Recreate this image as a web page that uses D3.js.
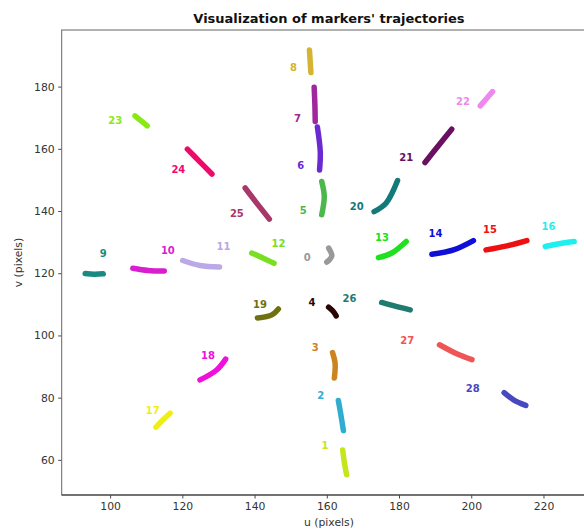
<!DOCTYPE html>
<html>
<head>
<meta charset="utf-8">
<script src="https://cdn.jsdelivr.net/npm/d3@7"></script>
<style>
  html, body { margin: 0; padding: 0; background: #fff; }
  svg { display: block; font-family: "DejaVu Sans", sans-serif; }
</style>
</head>
<body>
<svg id="chart" width="584" height="532"></svg>
<script>
// Marker ids and their colours
const markerIds = [0,1,2,3,4,5,6,7,8,9,10,11,12,13,14,15,16,17,18,19,20,21,22,23,24,25,26,27,28];
const markerColors = [
  "#999999", "#c5e51d", "#30acd0", "#cc8420", "#2a0505", "#4cb84c", "#6a2ad0",
  "#a0289c", "#d4b430", "#1a8a80", "#d81fcf", "#bba8e6", "#78e020", "#20e020",
  "#0f0fd8", "#ee1010", "#1fefef", "#f0f010", "#ee10dc", "#707010", "#137a7a",
  "#6a1060", "#ee88ee", "#88ea10", "#ee0a6a", "#a8386a", "#1f7a70", "#f05555", "#4848c0"
];

// Trajectory samples per marker (u, v in image pixels)
const trajU = [
  [160.5, 161.4, 160.7, 160.0],
  [164.4, 164.9, 165.5],
  [163.2, 163.9, 164.6],
  [161.6, 162.3, 162.1],
  [160.5, 161.8, 162.6],
  [158.6, 159.3, 158.6],
  [157.4, 158.2, 158.0],
  [156.5, 156.7, 156.8],
  [155.2, 155.4, 155.6],
  [93.1, 95.6, 98.1],
  [106.3, 110.5, 115.0],
  [120.1, 124.9, 130.3],
  [139.2, 142.3, 145.4],
  [174.3, 178.0, 182.0],
  [189.1, 195.1, 200.6],
  [204.1, 209.9, 215.4],
  [220.5, 225.5, 228.5],
  [112.7, 114.6, 116.6],
  [124.9, 129.5, 132.0],
  [140.8, 144.8, 146.6],
  [173.1, 176.4, 179.6],
  [187.2, 190.9, 194.6],
  [202.5, 204.2, 205.9],
  [106.9, 108.6, 110.3],
  [121.4, 124.8, 128.2],
  [137.4, 140.7, 144.1],
  [175.2, 178.9, 183.1],
  [191.2, 196.0, 200.2],
  [209.1, 211.7, 215.1]
];
const trajV = [
  [128.1, 125.6, 124.3, 123.6],
  [63.2, 58.9, 55.2],
  [79.1, 74.5, 69.4],
  [94.5, 91.1, 86.3],
  [109.1, 107.7, 106.3],
  [149.5, 144.7, 138.8],
  [167.0, 159.0, 153.2],
  [179.8, 174.3, 168.8],
  [191.8, 188.1, 184.5],
  [119.9, 119.7, 119.8],
  [121.6, 120.9, 120.7],
  [124.1, 122.5, 122.0],
  [126.5, 124.9, 123.2],
  [125.0, 126.5, 130.2],
  [126.1, 127.5, 130.5],
  [127.5, 128.8, 130.5],
  [128.6, 129.7, 130.2],
  [70.5, 72.8, 75.0],
  [85.7, 88.9, 92.4],
  [105.6, 106.6, 108.5],
  [139.8, 142.5, 149.8],
  [155.6, 161.0, 166.3],
  [173.8, 176.1, 178.4],
  [170.6, 169.0, 167.4],
  [159.9, 155.9, 151.9],
  [147.4, 142.4, 137.4],
  [110.6, 109.4, 108.2],
  [97.0, 94.1, 92.2],
  [81.6, 79.3, 77.5]
];

// Where each marker id is written
const labelU = [154.6, 159.5, 158.3, 156.8, 155.9, 153.5, 152.8, 151.9, 150.8, 98.1,
                116.0, 131.4, 146.6, 175.3, 190.1, 205.2, 221.4, 111.8, 127.1, 141.5,
                168.3, 182.0, 197.7, 101.4, 118.9, 135.1, 166.3, 182.3, 200.4];
const labelV = [125.1, 64.5, 80.6, 96.1, 110.7, 140.2, 154.5, 169.9, 186.0, 126.2,
                127.2, 128.6, 129.6, 131.6, 132.7, 134.0, 135.0, 75.8, 93.5, 109.8,
                141.3, 157.2, 175.1, 169.0, 153.2, 139.1, 111.8, 98.3, 82.8];

const xTicks = [100, 120, 140, 160, 180, 200, 220];
const yTicks = [60, 80, 100, 120, 140, 160, 180];

const svg = d3.select("#chart");
const plotLeft = 61.7, plotRight = 596.2, plotTop = 30, plotBottom = 495;

const x = d3.scaleLinear().domain([86.6, 234.6]).range([plotLeft, plotRight]);
const y = d3.scaleLinear().domain([48.7, 198.2]).range([plotBottom, plotTop]);

svg.append("defs").append("clipPath").attr("id", "plotClip")
  .append("rect").attr("x", plotLeft).attr("y", plotTop)
  .attr("width", plotRight - plotLeft).attr("height", plotBottom - plotTop);

// Axes
const xAxis = svg.append("g").attr("transform", `translate(0,${plotBottom})`)
  .call(d3.axisBottom(x).tickValues(xTicks).tickSize(3.5).tickPadding(3.5));
const yAxis = svg.append("g").attr("transform", `translate(${plotLeft},0)`)
  .call(d3.axisLeft(y).tickValues(yTicks).tickSize(3.5).tickPadding(3.5));
[xAxis, yAxis].forEach(g => {
  g.select(".domain").remove();
  g.selectAll(".tick line").attr("stroke", "#333").attr("stroke-width", 0.9);
  g.selectAll(".tick text").attr("fill", "#333")
    .style("font-family", "'DejaVu Sans', sans-serif").style("font-size", "10.8px");
});

// Frame
svg.append("rect").attr("x", plotLeft).attr("y", plotTop)
  .attr("width", plotRight - plotLeft).attr("height", plotBottom - plotTop)
  .attr("fill", "none").attr("stroke", "#666").attr("stroke-width", 1);
svg.append("line").attr("x1", plotLeft).attr("x2", plotRight)
  .attr("y1", plotBottom).attr("y2", plotBottom)
  .attr("stroke", "#333").attr("stroke-width", 1.2);

// Trajectories
const plot = svg.append("g").attr("clip-path", "url(#plotClip)");
const line = d3.line().curve(d3.curveCatmullRom.alpha(0.5))
  .x(d => x(d[0])).y(d => y(d[1]));

markerIds.forEach((id, i) => {
  const pts = trajU[i].map((u, k) => [u, trajV[i][k]]);
  plot.append("path").datum(pts)
    .attr("d", line)
    .attr("fill", "none")
    .attr("stroke", markerColors[i])
    .attr("stroke-width", 5.5)
    .attr("stroke-linecap", "round")
    .attr("stroke-linejoin", "round");
});

plot.selectAll("text.marker-id").data(markerIds).enter().append("text")
  .attr("class", "marker-id")
  .attr("x", (d, i) => x(labelU[i]))
  .attr("y", (d, i) => y(labelV[i]))
  .attr("text-anchor", "middle")
  .attr("dominant-baseline", "central")
  .attr("fill", (d, i) => markerColors[i])
  .style("font-weight", "bold")
  .style("font-size", "10px")
  .text(d => d);

// Titles
svg.append("text").attr("x", (plotLeft + plotRight) / 2).attr("y", 18)
  .attr("text-anchor", "middle").attr("dominant-baseline", "central")
  .style("font-weight", "bold").style("font-size", "13px").attr("fill", "#111")
  .text("Visualization of markers' trajectories");
svg.append("text").attr("x", (plotLeft + plotRight) / 2).attr("y", 522)
  .attr("text-anchor", "middle").attr("dominant-baseline", "central")
  .style("font-size", "10.8px").attr("fill", "#333")
  .text("u (pixels)");
svg.append("text")
  .attr("transform", `translate(18,${(plotTop + plotBottom) / 2}) rotate(-90)`)
  .attr("text-anchor", "middle").attr("dominant-baseline", "central")
  .style("font-size", "10.8px").attr("fill", "#333")
  .text("v (pixels)");
</script>
</body>
</html>
